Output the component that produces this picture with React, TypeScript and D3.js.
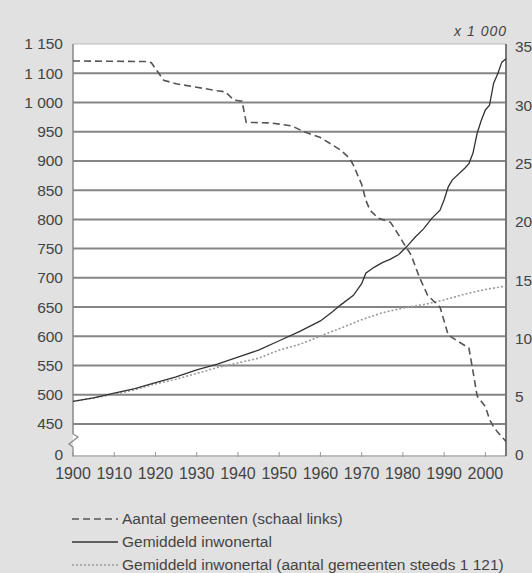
import React from 'react';
import * as d3 from 'd3';

// ---- data ----
const xTicks = [1900, 1910, 1920, 1930, 1940, 1950, 1960, 1970, 1980, 1990, 2000];
const leftTickValues = [1150, 1100, 1050, 1000, 950, 900, 850, 800, 750, 700, 650, 600, 550, 500];
const leftTickLabels = ['1 150', '1 100', '1 000', '950', '900', '850', '800', '750', '700', '650', '600', '550', '500', '450'];
const rightTicks = [0, 5, 10, 15, 20, 25, 30, 35];

const gemeentenYears = [1900, 1918, 1919, 1922, 1925, 1930, 1935, 1937, 1939, 1941, 1942, 1948, 1953, 1956, 1960, 1963, 1965, 1967, 1968, 1969, 1970, 1971, 1972, 1974, 1977, 1979, 1980, 1982, 1984, 1986, 1989, 1991, 1993, 1996, 1997, 1998, 2000, 2001, 2002, 2003, 2004, 2005];
const gemeentenValues = [1121, 1120, 1118, 1088, 1082, 1076, 1070, 1068, 1054, 1052, 1016, 1015, 1010, 1000, 990, 977, 968, 955, 943, 926, 910, 883, 866, 852, 845, 823, 811, 789, 751, 720, 700, 652, 643, 630, 590, 548, 530, 508, 495, 486, 478, 470];

const inwonerYears = [1900, 1905, 1910, 1915, 1920, 1925, 1930, 1935, 1940, 1945, 1950, 1955, 1960, 1963, 1965, 1968, 1970, 1971, 1973, 1975, 1977, 1979, 1981, 1983, 1985, 1987, 1989, 1990, 1991, 1992, 1995, 1996, 1997, 1998, 1999, 2000, 2001, 2002, 2003, 2004, 2005];
const inwonerValues = [4.6, 4.9, 5.3, 5.7, 6.2, 6.7, 7.3, 7.8, 8.4, 9.0, 9.8, 10.6, 11.5, 12.3, 12.9, 13.7, 14.7, 15.6, 16.1, 16.5, 16.8, 17.2, 17.9, 18.7, 19.4, 20.3, 21.0, 21.9, 23.0, 23.6, 24.6, 25.0, 25.9, 27.6, 28.7, 29.6, 30.0, 31.9, 32.7, 33.7, 34.0];

const constYears = [1900, 1905, 1910, 1915, 1920, 1925, 1930, 1935, 1940, 1945, 1950, 1955, 1960, 1965, 1970, 1975, 1980, 1985, 1990, 1995, 2000, 2005];
const constValues = [4.6, 4.9, 5.2, 5.6, 6.1, 6.5, 7.0, 7.5, 7.9, 8.3, 9.0, 9.5, 10.2, 10.9, 11.6, 12.2, 12.6, 12.9, 13.3, 13.8, 14.2, 14.5];

const legendLabels = [
  'Aantal gemeenten (schaal links)',
  'Gemiddeld inwonertal',
  'Gemiddeld inwonertal (aantal gemeenten steeds 1 121)',
];

export default function App() {
  const W = 532, H = 573;
  const left = 73, right = 506, top = 44, bottom = 455;
  const x = d3.scaleLinear().domain([1900, 2005]).range([left, right]);
  const yL = d3.scaleLinear().domain([500, 1150]).range([424, top]);
  const yR = d3.scaleLinear().domain([0, 35]).range([bottom, 47]);

  const font = "'Liberation Sans', Arial, sans-serif";
  const txt = '#444';

  const lineL = d3.line<number>().x((_, i) => x(gemeentenYears[i])).y((d) => yL(d));
  const lineInw = d3.line<number>().x((_, i) => x(inwonerYears[i])).y((d) => yR(d));
  const lineConst = d3.line<number>().x((_, i) => x(constYears[i])).y((d) => yR(d));

  const styles = [
    { stroke: '#555', width: 1.6, dash: '7 4' },
    { stroke: '#333', width: 1.3, dash: undefined },
    { stroke: '#999', width: 1.6, dash: '2 2' },
  ];

  return (
    <svg width={W} height={H} style={{ position: 'absolute', left: 0, top: 0, fontFamily: font }}>
      <rect x={0} y={0} width={W} height={H} fill="#e1e1e1" />
      <rect x={left} y={top} width={right - left} height={bottom - top} fill="#ffffff" />
      {/* gridlines */}
      {leftTickValues.slice(1).map((v) => (
        <line key={v} x1={left} x2={right} y1={yL(v)} y2={yL(v)} stroke="#858585" strokeWidth={2} />
      ))}
      <line x1={left} x2={right} y1={top} y2={top} stroke="#bbb" strokeWidth={1} />
      {/* bottom axis */}
      <line x1={left} x2={right} y1={bottom + 1} y2={bottom + 1} stroke="#999" strokeWidth={1} />
      {xTicks.map((t) => (
        <line key={t} x1={x(t)} x2={x(t)} y1={bottom - 3} y2={bottom + 2} stroke="#999" strokeWidth={1} />
      ))}
      {/* left axis with break */}
      <line x1={left} x2={left} y1={top} y2={434} stroke="#888" strokeWidth={1.5} />
      <path d={`M${left},434 L${left + 5},437 L${left - 4},444 L${left},447 L${left},${bottom + 1}`} fill="none" stroke="#888" strokeWidth={1.2} />
      {/* right axis */}
      <line x1={right} x2={right} y1={top} y2={bottom + 1} stroke="#777" strokeWidth={2} />

      {/* series */}
      <path d={lineConst(constValues) || ''} fill="none" stroke={styles[2].stroke} strokeWidth={styles[2].width} strokeDasharray={styles[2].dash} />
      <path d={lineInw(inwonerValues) || ''} fill="none" stroke={styles[1].stroke} strokeWidth={styles[1].width} />
      <path d={lineL(gemeentenValues) || ''} fill="none" stroke={styles[0].stroke} strokeWidth={styles[0].width} strokeDasharray={styles[0].dash} />

      {/* left labels */}
      {leftTickValues.map((v, i) => (
        <text key={v} x={63} y={yL(v)} dy="0.35em" textAnchor="end" fontSize={15.5} fill={txt}>{leftTickLabels[i]}</text>
      ))}
      <text x={63} y={bottom} dy="0.35em" textAnchor="end" fontSize={15.5} fill={txt}>0</text>
      {/* right labels */}
      {rightTicks.map((v) => (
        <text key={v} x={515} y={yR(v)} dy="0.35em" textAnchor="start" fontSize={15.5} fill={txt}>{v}</text>
      ))}
      <text x={507} y={36} textAnchor="end" fontSize={14} fontStyle="italic" letterSpacing={1} fill={txt}>x 1 000</text>
      {/* x labels */}
      {xTicks.map((t) => (
        <text key={t} x={x(t)} y={479} textAnchor="middle" fontSize={16} fill={txt}>{t}</text>
      ))}
      {/* legend */}
      {legendLabels.map((l, i) => {
        const ly = 519 + i * 23;
        return (
          <g key={l}>
            <line x1={72} x2={118} y1={ly} y2={ly} stroke={styles[i].stroke} strokeWidth={styles[i].width} strokeDasharray={styles[i].dash} />
            <text x={122} y={ly} dy="0.35em" fontSize={15.5} fill={txt}>{l}</text>
          </g>
        );
      })}
    </svg>
  );
}
